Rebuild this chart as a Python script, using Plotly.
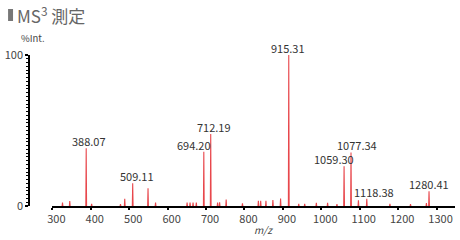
import plotly.graph_objects as go

# ---- data ----
labeled_mz = [388.07, 509.11, 694.20, 712.19, 915.31, 1059.30, 1077.34, 1118.38, 1280.41]
labeled_int = [38.2, 15.0, 36.0, 47.7, 100.0, 26.3, 35.5, 4.8, 9.8]

minor_mz = [326.4, 345.3, 402.2, 477.3, 488.4, 549.0, 568.6, 650.7, 658.4, 666.2, 674.7,
            730.1, 735.3, 752.4, 794.8, 836.2, 842.2, 855.9, 874.0, 894.0, 941.3, 956.8,
            987.1, 1016.4, 1040.7, 1096.6, 1178.6, 1232.2, 1273.6]
minor_int = [2.2, 3.3, 1.4, 1.2, 4.8, 11.8, 2.2, 2.3, 2.3, 2.3, 2.3,
             2.2, 2.5, 4.3, 1.8, 3.4, 3.5, 3.4, 4.0, 5.0, 1.4, 1.4,
             2.1, 2.1, 1.3, 3.8, 1.4, 1.2, 2.0]

x_ticks = [300, 400, 500, 600, 700, 800, 900, 1000, 1100, 1200, 1300]
y_ticks = [0, 100]

# label pixel offsets (style only)
label_dx = [3, 4, -10, 3, -1, -10, 6, 7, 0]

# ---- build stick spectrum ----
all_mz = labeled_mz + minor_mz
all_int = labeled_int + minor_int
xs, ys = [], []
for m, h in zip(all_mz, all_int):
    xs += [m - 1.0, m, m + 1.0, None]
    ys += [0, h, 0, None]

W, H = 460, 240
ML, MR, MT, MB = 20, 5, 55, 34
PW = W - ML - MR
PH = H - MT - MB

def px_x(x):
    return (x - ML) / PW

def px_y(y):
    return (H - MB - y) / PH

FONT = "Noto Sans CJK JP"
fig = go.Figure()
fig.add_trace(go.Scatter(x=xs, y=ys, mode="lines",
                         line=dict(color="#e8474c", width=1.1),
                         hoverinfo="skip", showlegend=False))

annotations = []
for m, h, dx in zip(labeled_mz, labeled_int, label_dx):
    annotations.append(dict(x=m, y=h, xref="x", yref="y", text=f"{m:.2f}",
                            showarrow=False, xanchor="center", yanchor="bottom",
                            xshift=dx, yshift=-3,
                            font=dict(family=FONT, size=11, color="#333333")))

annotations.append(dict(x=px_x(13), y=px_y(15), xref="paper", yref="paper",
                        text="MS<sup>3</sup> 測定", showarrow=False,
                        xanchor="left", yanchor="middle",
                        font=dict(family=FONT, size=17, color="#666666")))
annotations.append(dict(x=px_x(31), y=px_y(38), xref="paper", yref="paper",
                        text="%Int.", showarrow=False, xanchor="center", yanchor="middle",
                        font=dict(family=FONT, size=9.5, color="#444444")))
annotations.append(dict(x=px_x(263), y=px_y(229), xref="paper", yref="paper",
                        text="<i>m/z</i>", showarrow=False, xanchor="center", yanchor="middle",
                        font=dict(family=FONT, size=10, color="#444444")))

shapes = [dict(type="rect", xref="paper", yref="paper",
               x0=px_x(6), x1=px_x(11), y0=px_y(21), y1=px_y(9),
               fillcolor="#777777", line=dict(width=0))]

fig.update_layout(
    width=W, height=H,
    margin=dict(l=ML, r=MR, t=MT, b=MB),
    plot_bgcolor="white", paper_bgcolor="white",
    annotations=annotations, shapes=shapes,
    xaxis=dict(domain=[px_x(50.5), 1], range=[300, 1348],
               tickvals=x_ticks, ticktext=[str(v) for v in x_ticks],
               showline=True, linecolor="black", linewidth=2,
               ticks="outside", ticklen=2, tickwidth=2, tickcolor="black",
               ticklabelshift=4, ticklabelstandoff=0,
               showgrid=False, zeroline=False,
               tickfont=dict(family=FONT, size=11, color="#444444")),
    yaxis=dict(anchor="free", position=px_x(27), range=[0, 100],
               tickvals=y_ticks, ticktext=[str(v) for v in y_ticks],
               showline=True, linecolor="black", linewidth=1.5,
               ticks="outside", ticklen=3, tickwidth=1.5, tickcolor="black",
               minor=dict(dtick=2.5, ticks="outside", ticklen=2, tickwidth=1, tickcolor="black"),
               showgrid=False, zeroline=False,
               tickfont=dict(family=FONT, size=11, color="#444444")),
)

fig.write_html("out.html")
